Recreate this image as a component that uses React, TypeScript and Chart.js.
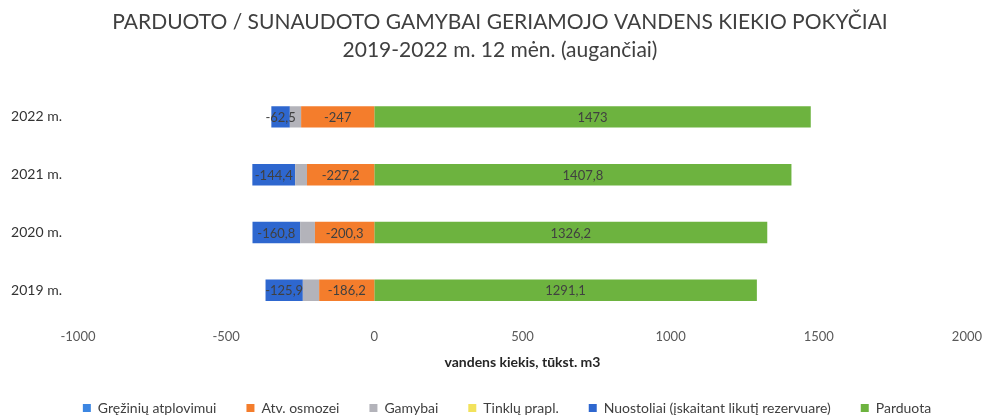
import React, { useEffect, useRef } from "react";
import { Chart, registerables } from "chart.js";

Chart.register(...registerables);

const categories = ["2022 m.", "2021 m.", "2020 m.", "2019 m."];
const grezinių = [0, 0, 0, 0];
const atvOsmozei = [-247, -227.2, -200.3, -186.2];
const gamybai = [-38, -40, -50, -55];
const tinkluPrapl = [0, 0, 0, 0];
const nuostoliai = [-62.5, -144.4, -160.8, -125.9];
const parduota = [1473, 1407.8, 1326.2, 1291.1];

const titleLines = [
  "PARDUOTO / SUNAUDOTO GAMYBAI GERIAMOJO VANDENS KIEKIO POKYČIAI",
  "2019-2022 m. 12 mėn. (augančiai)",
];
const axisTitle = "vandens kiekis, tūkst. m3";

const FONT = "Lato";

const labelPlugin = {
  id: "barLabels",
  afterLayout(chart: any) {
    if (chart.legend) {
      chart.legend.left += 23;
      chart.legend.right += 23;
    }
  },
  afterDatasetsDraw(chart: any) {
    const ctx = chart.ctx;
    ctx.save();
    ctx.font = `13px ${FONT}`;
    ctx.fillStyle = "#404040";
    ctx.textAlign = "center";
    ctx.textBaseline = "middle";
    chart.data.datasets.forEach((ds: any, i: number) => {
      if (!ds.showLabels) return;
      const meta = chart.getDatasetMeta(i);
      meta.data.forEach((el: any, j: number) => {
        const v = ds.data[j];
        if (!v) return;
        const p = el.getProps(["x", "y", "base"], true);
        const cx = (p.x + p.base) / 2;
        ctx.fillText(String(v).replace(".", ","), cx, p.y + 1);
      });
    });
    ctx.restore();
  },
  afterDraw(chart: any) {
    const ctx = chart.ctx;
    ctx.save();
    ctx.font = `21px ${FONT}`;
    ctx.fillStyle = "#404040";
    ctx.textAlign = "center";
    ctx.textBaseline = "middle";
    ctx.fillText(titleLines[0], 500, 22);
    ctx.fillText(titleLines[1], 500, 50);
    ctx.restore();
  },
};

export default function App() {
  const ref = useRef<HTMLCanvasElement | null>(null);
  useEffect(() => {
    document.body.style.margin = "0";
    document.body.style.overflow = "hidden";
    if (!ref.current) return;
    const mk = (label: string, data: number[], color: string, showLabels: boolean) => ({
      label,
      data,
      backgroundColor: color,
      borderWidth: 0,
      stack: "s",
      showLabels,
      categoryPercentage: 1,
      barPercentage: 0.37,
    });
    const chart = new Chart(ref.current, {
      type: "bar",
      data: {
        labels: categories,
        datasets: [
          mk("Gręžinių atplovimui", grezinių, "#3C86E2", false),
          mk("Atv. osmozei", atvOsmozei, "#F47D2C", true),
          mk("Gamybai", gamybai, "#B3B3BA", false),
          mk("Tinklų prapl.", tinkluPrapl, "#F2E25C", false),
          mk("Nuostoliai (įskaitant likutį rezervuare)", nuostoliai, "#2E67CF", true),
          mk("Parduota", parduota, "#6DB33F", true),
        ] as any,
      },
      options: {
        indexAxis: "y",
        animation: false,
        responsive: false,
        maintainAspectRatio: false,
        layout: { padding: { left: 0, right: 25, top: 88, bottom: -8 } },
        scales: {
          x: {
            stacked: true,
            min: -1000,
            max: 2000,
            grid: { display: false, drawTicks: false },
            border: { display: false },
            ticks: {
              stepSize: 500,
              padding: 11,
              color: "#595959",
              font: { family: FONT, size: 13, lineHeight: 1 },
              callback: (v: any) => String(v),
            },
            title: {
              display: true,
              text: axisTitle,
              color: "#262626",
              font: { family: FONT, size: 14, weight: "bold", lineHeight: 1.2 },
              padding: { top: 0, bottom: 0 },
            },
          },
          y: {
            stacked: true,
            grid: { display: false, drawTicks: false },
            border: { display: false },
            ticks: {
              padding: 16,
              color: "#333333",
              font: { family: FONT, size: 14 },
            },
            afterFit: (s: any) => {
              s.width = 78;
            },
          },
        },
        plugins: {
          title: { display: false },
          legend: {
            position: "bottom",
            labels: {
              boxWidth: 8,
              boxHeight: 8,
              padding: 30,
              color: "#404040",
              font: { family: FONT, size: 14 },
            },
          },
          tooltip: { enabled: false },
        },
      } as any,
      plugins: [labelPlugin],
    });
    return () => chart.destroy();
  }, []);
  return (
    <div style={{ width: 993, height: 417, background: "#fff" }}>
      <canvas ref={ref} width={993} height={417} />
    </div>
  );
}
